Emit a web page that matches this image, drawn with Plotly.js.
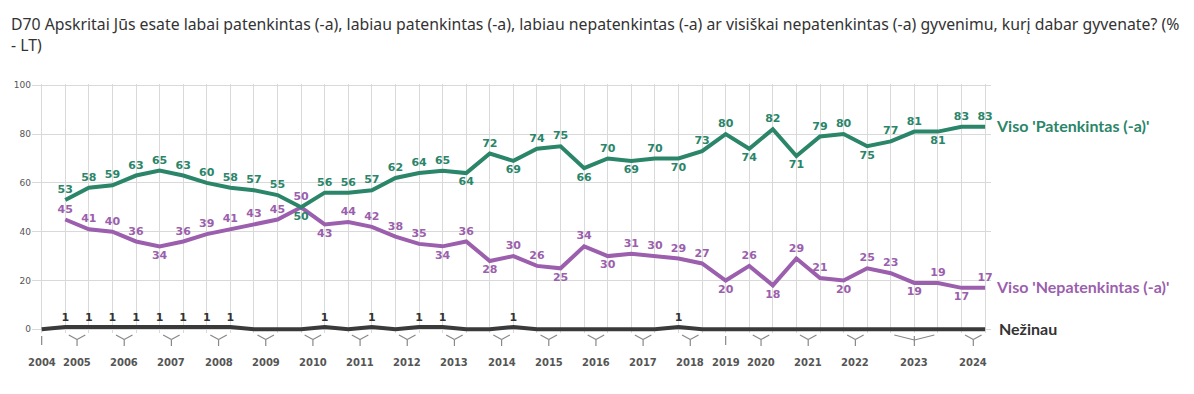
<!DOCTYPE html>
<html>
<head>
<meta charset="utf-8">
<script src="https://cdn.plot.ly/plotly-3.0.1.min.js"></script>
<style>html,body{margin:0;padding:0;background:#fff;}#chart{width:1194px;height:394px;}</style>
</head>
<body>
<div id="chart"></div>
<script>
// Survey waves: index 0 .. 40
const waves = Array.from({length: 41}, (_, i) => i);

// Year labels and the wave indices belonging to each year
const years = ['2004','2005','2006','2007','2008','2009','2010','2011','2012','2013','2014','2015','2016','2017','2018','2019','2020','2021','2022','2023','2024'];
const yearWaves = [[0],[1,2],[3,4],[5,6],[7,8],[9,10],[11,12],[13,14],[15,16],[17,18],[19,20],[21,22],[23,24],[25,26],[27,28],[29],[30,31],[32,33],[34,35],[36,37,38],[39,40]];

// Series (null = no data for that wave)
const patenkintas = [null,53,58,59,63,65,63,60,58,57,55,50,56,56,57,62,64,65,64,72,69,74,75,66,70,69,70,70,73,80,74,82,71,79,80,75,77,81,81,83,83];
const nepatenkintas = [null,45,41,40,36,34,36,39,41,43,45,50,43,44,42,38,35,34,36,28,30,26,25,34,30,31,30,29,27,20,26,18,29,21,20,25,23,19,19,17,17];
const nezinau = [0,1,1,1,1,1,1,1,1,0,0,0,1,0,1,0,1,1,0,0,1,0,0,0,0,0,0,1,0,0,0,0,0,0,0,0,0,0,0,0,0];

const seriesNames = ["Viso 'Patenkintas (-a)'", "Viso 'Nepatenkintas (-a)'", "Nežinau"];
const titleText = 'D70 Apskritai Jūs esate labai patenkintas (-a), labiau patenkintas (-a), labiau nepatenkintas (-a) ar visiškai nepatenkintas (-a) gyvenimu, kurį dabar gyvenate? (%<br>- LT)';

// Label placement style (a = above, b = below)
const greenSide = ['x','a','a','a','a','a','a','a','a','a','a','b','a','a','a','a','a','a','b','a','b','a','a','b','a','b','a','b','a','a','b','a','b','a','a','b','a','a','b','a','a'];
const purpleSide = ['x','a','a','a','a','b','a','a','a','a','a','a','b','a','a','a','a','b','a','b','a','a','b','a','b','a','a','a','a','b','a','b','a','a','b','a','a','b','a','b','a'];

const GREEN = '#2a8569', PURPLE = '#9b5fad', DARK = '#3a3a3a';

function pos(arr){ return arr.map(s => s === 'b' ? 'bottom center' : 'top center'); }
function txt(arr){ return arr.map(v => (v === null || v === 0) ? '' : String(v)); }

const labelFont = (c) => ({family: 'DejaVu Sans', size: 11, color: c, weight: 'bold'});

const traces = [
  {
    x: waves, y: nezinau, mode: 'lines+markers+text', name: seriesNames[2],
    line: {color: DARK, width: 4}, marker: {size: 4, opacity: 0},
    text: txt(nezinau), textposition: 'top center', textfont: labelFont('#333'),
    hoverinfo: 'y', cliponaxis: false
  },
  {
    x: waves, y: nepatenkintas, mode: 'lines+markers+text', name: seriesNames[1],
    line: {color: PURPLE, width: 4}, marker: {size: 5, opacity: 0},
    text: txt(nepatenkintas), textposition: pos(purpleSide), textfont: labelFont(PURPLE),
    hoverinfo: 'y', cliponaxis: false
  },
  {
    x: waves, y: patenkintas, mode: 'lines+markers+text', name: seriesNames[0],
    line: {color: GREEN, width: 4}, marker: {size: 5, opacity: 0},
    text: txt(patenkintas), textposition: pos(greenSide), textfont: labelFont(GREEN),
    hoverinfo: 'y', cliponaxis: false
  }
];

// Pixel helpers for marks below the axis (paper coords)
const plotLeft = 32, plotW = 959, plotBottom = 333, plotH = 249.2;
const py = (p) => (plotBottom - p) / plotH;
const px = (p) => (p - plotLeft) / plotW;

const shapes = [];
const annotations = [];
yearWaves.forEach((w, i) => {
  const first = w[0], last = w[w.length - 1];
  const c = (first + last) / 2;
  const lc = {color: '#888', width: 1.2};
  if (w.length === 1) {
    shapes.push({type: 'line', xref: 'x', yref: 'paper', x0: c, x1: c, y0: py(336), y1: py(345), line: lc});
  } else {
    const l = first + 0.15, r = last - 0.15;
    const jy = w.length > 2 ? 340 : 339.5;
    shapes.push({type: 'line', xref: 'x', yref: 'paper', x0: l, x1: c, y0: py(335), y1: py(jy), line: lc});
    shapes.push({type: 'line', xref: 'x', yref: 'paper', x0: r, x1: c, y0: py(335), y1: py(jy), line: lc});
    shapes.push({type: 'line', xref: 'x', yref: 'paper', x0: c, x1: c, y0: py(w.length > 2 ? 336 : jy), y1: py(346), line: lc});
  }
  annotations.push({
    x: c, y: py(363), xref: 'x', yref: 'paper', text: years[i], showarrow: false,
    xanchor: 'center', yanchor: 'middle',
    font: {family: 'DejaVu Sans', size: 10, color: '#555', weight: 'bold'}
  });
});

const lastIdx = waves.length - 1;
const endLabels = [
  {v: patenkintas[lastIdx], t: seriesNames[0], c: GREEN, s: 9},
  {v: nepatenkintas[lastIdx], t: seriesNames[1], c: PURPLE, s: 9},
  {v: nezinau[lastIdx], t: seriesNames[2], c: '#333', s: 12}
];
endLabels.forEach(e => annotations.push({
  x: waves[lastIdx], y: e.v, xref: 'x', yref: 'y', text: e.t, showarrow: false,
  xanchor: 'left', yanchor: 'middle', xshift: e.s, yshift: 1,
  font: {family: 'Lato', size: 16, color: e.c, weight: 'bold'}
}));

// Title
annotations.push({
  x: px(9), y: py(11), xref: 'paper', yref: 'paper', text: titleText, showarrow: false,
  xanchor: 'left', yanchor: 'top', align: 'left',
  font: {family: 'Noto Sans', size: 15.8, color: '#333'}
});

const layout = {
  width: 1194, height: 394,
  margin: {l: 32, r: 203, t: 84, b: 61},
  paper_bgcolor: '#fff', plot_bgcolor: '#fff',
  showlegend: false,
  xaxis: {
    range: [-0.41, 40.25], tick0: 0, dtick: 1, showgrid: true, gridcolor: '#d9d9d9', gridwidth: 1,
    showticklabels: false, ticks: '', zeroline: false, showline: false, fixedrange: true
  },
  yaxis: {
    range: [-1.5, 100.5], tickvals: [0, 20, 40, 60, 80, 100], showgrid: true, gridcolor: '#d9d9d9', gridwidth: 1,
    zeroline: false, showline: false, ticks: '', ticklen: 0,
    tickfont: {family: 'DejaVu Sans', size: 9, color: '#555'}, fixedrange: true
  },
  shapes: shapes,
  annotations: annotations
};

Plotly.newPlot('chart', traces, layout, {displayModeBar: false, staticPlot: true});
</script>
</body>
</html>
